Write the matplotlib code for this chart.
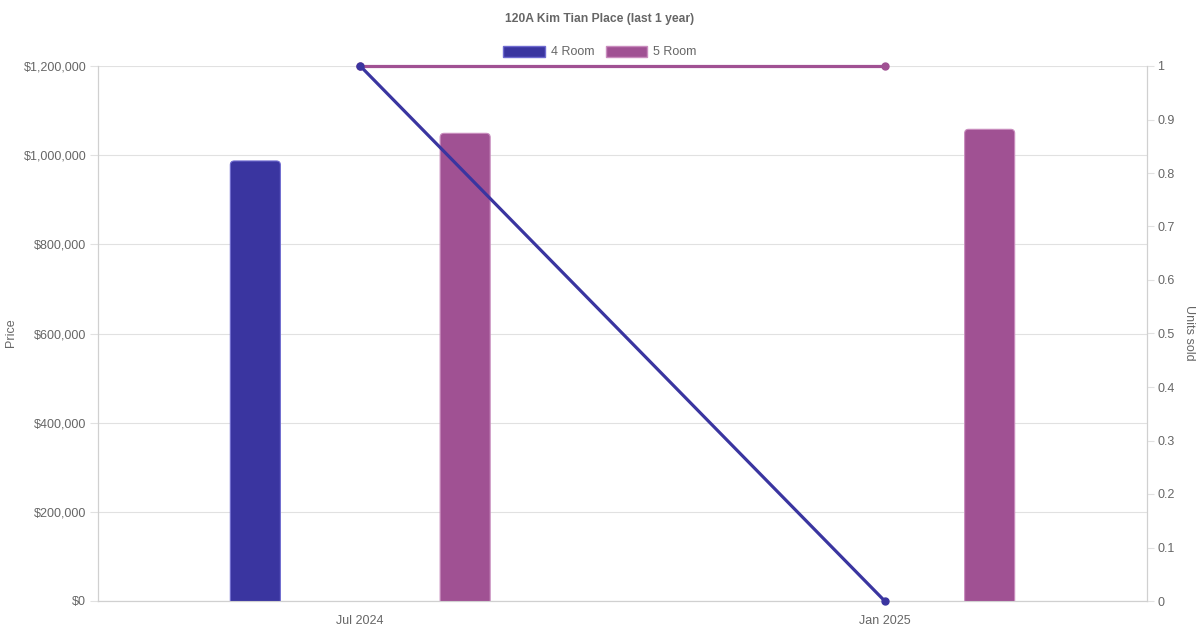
import matplotlib
matplotlib.use('Agg')
import matplotlib.pyplot as plt
from matplotlib.patches import Patch, FancyBboxPatch
from matplotlib.ticker import FuncFormatter, MultipleLocator

# datos
months = ['Jul 2024', 'Jan 2025']
room_types = ['4 Room', '5 Room']
price_4room = [987000, None]
price_5room = [1049000, 1058000]
units_4room = [1, 0]
units_5room = [1, 1]

colors = {'4 Room': '#3a35a0', '5 Room': '#a05193'}
edge_colors = {'4 Room': '#6f6bd0', '5 Room': '#c98cbe'}
text_col = '#666666'
grid_col = '#e1e1e1'

plt.rcParams['font.family'] = ['Liberation Sans', 'DejaVu Sans']

W, H = 1200, 630
fig = plt.figure(figsize=(12, 6.3), dpi=100)
ax = fig.add_axes([98 / W, 29 / H, 1049 / W, 535 / H])
ax2 = ax.twinx()

x = list(range(len(months)))
offsets = [-0.2, 0.2]
bar_w = 50 / 524

ax.set_xlim(-0.5, 1.5)
ax.set_ylim(0, 1200000)
ax2.set_ylim(0, 1)

# escala px -> unidades de datos, para redondear las esquinas
x_per_px = 2 / 1049
y_per_px = 1200000 / 535
radius_px = 4

# --- barras de precio (esquinas superiores redondeadas) ---
for rt, off, prices in zip(room_types, offsets, [price_4room, price_5room]):
    for xi, p in zip(x, prices):
        if p is None:
            continue
        bars = ax.bar(xi + off, p, width=bar_w, alpha=0)
        r = bars[0]
        ext = 2 * radius_px * y_per_px
        box = FancyBboxPatch((r.get_x(), -ext), r.get_width(), p + ext,
                             boxstyle=f'round,pad=0,rounding_size={radius_px * x_per_px}',
                             mutation_aspect=y_per_px / x_per_px,
                             facecolor=colors[rt], edgecolor=edge_colors[rt],
                             linewidth=0.8, zorder=3)
        ax.add_patch(box)

# --- líneas de unidades vendidas (4 Room encima) ---
for rt, units, z in zip(room_types, [units_4room, units_5room], [5, 4]):
    ax2.plot(x, units, color=colors[rt], linewidth=2.3, marker='o', markersize=5,
             zorder=z, clip_on=False)

ax.yaxis.set_major_locator(MultipleLocator(200000))
ax.yaxis.set_major_formatter(FuncFormatter(lambda v, _: f'${v:,.0f}'))
ax2.yaxis.set_major_locator(MultipleLocator(0.1))
ax2.yaxis.set_major_formatter(FuncFormatter(lambda v, _: f'{v:.1f}'.rstrip('0').rstrip('.') if v else '0'))

ax.set_xticks(x)
ax.set_xticklabels(months)
ax.tick_params(axis='x', length=0, pad=10, labelsize=9, colors=text_col)
ax.tick_params(axis='y', length=5.6, width=0.8, color=grid_col, pad=2.8, labelsize=9, labelcolor=text_col)
ax2.tick_params(axis='y', length=5.2, width=0.8, color=grid_col, pad=2.2, labelsize=9, labelcolor=text_col)

ax.grid(axis='y', color=grid_col, linewidth=0.8, zorder=0)
ax.set_axisbelow(True)

for a in (ax, ax2):
    a.spines['top'].set_visible(False)
    for s in ['left', 'right', 'bottom']:
        a.spines[s].set_color('#d0d0d0')
        a.spines[s].set_linewidth(0.8)

fig.text(11 / W, 1 - 333 / H, 'Price', rotation=90, ha='center', va='center',
         fontsize=9, color=text_col)
fig.text(1189 / W, 1 - 333 / H, 'Units sold', rotation=270, ha='center', va='center',
         fontsize=9, color=text_col)

fig.text(0.5, 1 - 19 / H, '120A Kim Tian Place (last 1 year)', ha='center', va='center',
         fontsize=8.7, fontweight='bold', color=text_col)

handles = [Patch(facecolor=colors[rt], edgecolor=edge_colors[rt], label=rt) for rt in room_types]
fig.legend(handles=handles, loc='center', bbox_to_anchor=(0.5, 1 - 52 / H), ncol=2,
           frameon=False, fontsize=9, labelcolor=text_col, handlelength=3.3, handleheight=1.0,
           handletextpad=0.5, columnspacing=0.9)

fig.savefig('out.png', dpi=100)
